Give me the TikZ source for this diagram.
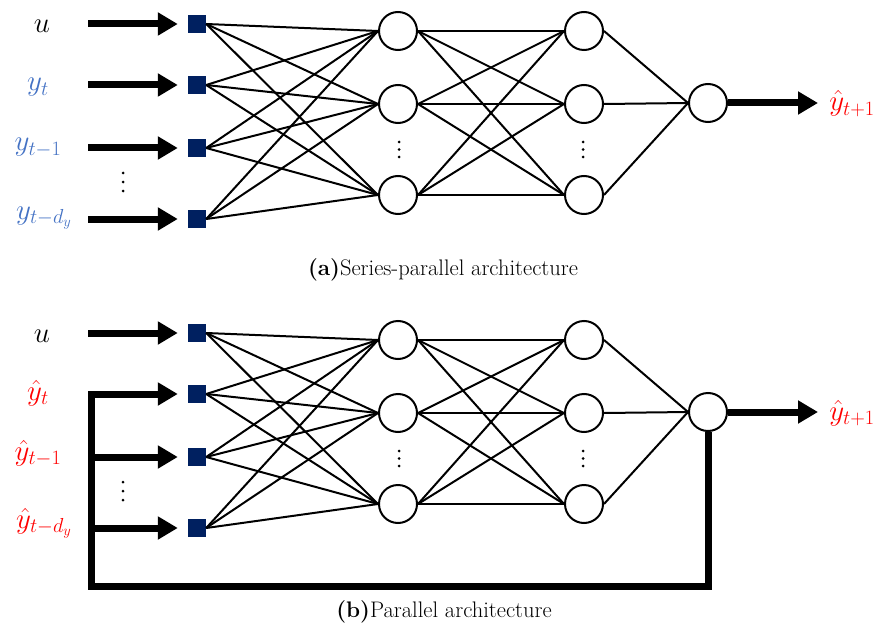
\RequirePackage{fix-cm}
\documentclass[tikz,border=0pt]{standalone}
\usetikzlibrary{arrows.meta}
\definecolor{navy}{HTML}{002060}
\definecolor{inblue}{HTML}{4472C4}
\definecolor{outred}{HTML}{FF0000}
\tikzset{
  inp/.style={fill=navy, minimum size=18pt, inner sep=0pt},
  neuron/.style={circle, draw, line width=2pt, minimum size=38pt, inner sep=0pt},
  link/.style={line width=2pt},
  fat/.style={line width=7pt, -{Triangle[length=20pt,width=22pt]}},
  feed/.style={line width=7pt, line join=miter},
  lbl/.style={anchor=base, inner sep=0pt, font=\fontsize{29}{32}\selectfont},
  captext/.style={font=\fontsize{22.5}{26}\selectfont, inner sep=0pt},
  vdot/.style={fill=black}
}
\begin{document}
\begin{tikzpicture}[x=1pt,y=-1pt]
\useasboundingbox (0,0) rectangle (877,631);

% two copies of the network: series-parallel (a) and parallel (b)
\foreach \p/\dy in {a/0,b/309}{
  \begin{scope}[shift={(0,\dy)}]
    % input units
    \node[inp] (\p x1) at (197,24) {};
    \node[inp] (\p x2) at (197,85) {};
    \node[inp] (\p x3) at (197,148) {};
    \node[inp] (\p x4) at (197,219) {};
    % first hidden layer
    \node[neuron] (\p h1) at (398,31) {};
    \node[neuron] (\p h2) at (398,104) {};
    \node[neuron] (\p h3) at (398,195) {};
    % second hidden layer
    \node[neuron] (\p g1) at (584,31) {};
    \node[neuron] (\p g2) at (584,104) {};
    \node[neuron] (\p g3) at (584,195) {};
    % output unit
    \node[neuron] (\p o) at (708,103) {};
    % vertical ellipses
    \foreach \yy in {173,182,191} \fill[vdot] (123,\yy) circle[radius=1.5pt];
    \foreach \yy in {142,149.5,157} {
      \fill[vdot] (399,\yy) circle[radius=1.5pt];
      \fill[vdot] (583,\yy) circle[radius=1.5pt];
    }
    % output arrow
    \coordinate (\p out) at (818,103);
    \draw[fat] (\p o.east) -- (\p out);
    \node[lbl, text=outred] (\p ylab) at (852,111) {$\hat{y}_{t+1}$};
  \end{scope}
  % full connections
  \foreach \i in {1,...,4}
    \foreach \j in {1,2,3}
      \draw[link] (\p x\i.east) -- (\p h\j.west);
  \foreach \i in {1,2,3}
    \foreach \j in {1,2,3}
      \draw[link] (\p h\i.east) -- (\p g\j.west);
  \foreach \i in {1,2,3}
    \draw[link] (\p g\i.east) -- (\p o.west);
}

% inputs of (a)
\foreach \i/\yy in {1/24,2/85,3/148,4/219}{
  \coordinate (as\i) at (88,\yy);
  \draw[fat] (as\i) -- ([xshift=-10pt]ax\i.west);
}
\node[lbl] (au) at (42,33) {$u$};
\node[lbl, text=inblue] (ay0) at (38,91) {$y_t$};
\node[lbl, text=inblue] (ay1) at (38,151) {$y_{t-1}$};
\node[lbl, text=inblue] (ayd) at (44,219) {$y_{t-d_y}$};

% inputs of (b) with the feedback loop
\coordinate (bs1) at (88,333);
\draw[fat] (bs1) -- ([xshift=-10pt]bx1.west);
\coordinate (fbL) at (91,586);
\draw[feed] (bo.south) -- (bo.south |- fbL) -- (fbL) -- (fbL |- bx2);
\draw[fat] ([yshift=3.5pt]fbL |- bx2) -- (fbL |- bx2) -- ([xshift=-10pt]bx2.west);
\draw[fat] (fbL |- bx3) -- ([xshift=-10pt]bx3.west);
\draw[fat] (fbL |- bx4) -- ([xshift=-10pt]bx4.west);
\node[lbl] (bu) at (42,342) {$u$};
\node[lbl, text=outred] (by0) at (38,400) {$\hat{y}_t$};
\node[lbl, text=outred] (by1) at (38,460) {$\hat{y}_{t-1}$};
\node[lbl, text=outred] (byd) at (44,528) {$\hat{y}_{t-d_y}$};

% captions
\node[captext] (capa) at (443,270) {\textbf{(a)}Series-parallel architecture};
\node[captext] (capb) at (444,612) {\textbf{(b)}Parallel architecture};
\end{tikzpicture}
\end{document}
